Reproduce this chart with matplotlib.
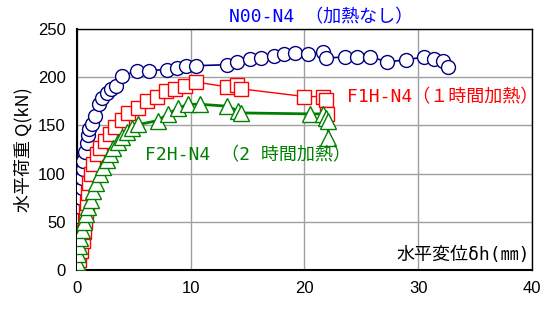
import matplotlib
matplotlib.use("Agg")
import matplotlib.pyplot as plt

plt.rcParams['font.family'] = ['Noto Sans CJK JP', 'DejaVu Sans']
mono_jp = ['DejaVu Sans Mono', 'Noto Sans CJK JP']

# N00-N4 (加熱なし)
n00_x = [0.0, 0.05, 0.1, 0.15, 0.2, 0.25, 0.3, 0.35, 0.4, 0.45, 0.5, 0.55, 0.7, 0.85,
         1.0, 1.1, 1.3, 1.6, 1.9, 2.2, 2.6, 3.0, 3.4, 4.0, 5.3, 6.3, 7.9, 8.8, 9.6, 10.5,
         13.2, 14.1, 15.2, 16.2, 17.3, 18.2, 19.2, 20.3, 21.6, 21.9, 23.6, 24.6, 25.8,
         27.3, 28.9, 30.5, 31.4, 32.2, 32.6]
n00_y = [5, 15, 25, 35, 45, 55, 65, 75, 85, 95, 105, 113, 122, 132,
         140, 146, 152, 160, 172, 178, 184, 188, 191, 201, 207, 207, 208, 210, 212, 212,
         213, 216, 219, 220, 222, 224, 225, 224, 226, 220, 221, 221, 221,
         216, 218, 221, 219, 217, 211]

# F1H-N4 (1時間加熱)
f1h_x = [0.0, 0.2, 0.35, 0.5, 0.6, 0.7, 0.8, 0.9, 1.0, 1.1, 1.2, 1.4, 1.8, 2.0, 2.5,
         2.9, 3.3, 4.0, 4.5, 5.4, 6.2, 7.0, 7.8, 8.6, 9.5, 10.5, 13.2, 14.1, 14.4,
         20.0, 21.6, 21.9, 22.0]
f1h_y = [3, 10, 20, 30, 40, 50, 60, 70, 80, 90, 100, 110, 120, 127, 134,
         141, 148, 156, 163, 168, 175, 180, 186, 188, 191, 195, 190, 192, 188,
         180, 180, 176, 162]

# F2H-N4 (2時間加熱)
f2h_x = [0.0, 0.0, 0.1, 0.15, 0.3, 0.45, 0.6, 0.8, 1.0, 1.2, 1.4, 1.7, 2.0, 2.3, 2.6,
         2.9, 3.2, 3.6, 4.0, 4.4, 4.8, 5.4, 7.1, 8.0, 8.9, 9.8, 10.8, 13.2, 14.2, 14.4,
         20.5, 21.6, 21.9, 22.1, 22.1]
f2h_y = [0, 8, 17, 25, 33, 42, 50, 58, 65, 73, 82, 90, 100, 107, 114,
         120, 127, 133, 138, 143, 147, 151, 155, 162, 168, 172, 172, 170, 165, 163,
         162, 162, 158, 155, 137]

x_ticks = [0, 10, 20, 30, 40]
y_ticks = [0, 50, 100, 150, 200, 250]

fig = plt.figure(figsize=(5.46, 3.09), dpi=100)
ax = fig.add_axes([0.141, 0.126, 0.833, 0.78])

ax.plot(n00_x, n00_y, '-o', color='#000080', lw=1.2, ms=10,
        mfc='white', mec='#000080', mew=1.0, zorder=3)
ax.plot(f1h_x, f1h_y, '-s', color='#ff0000', lw=1.0, ms=9.5,
        mfc='white', mec='#ff0000', mew=1.0, zorder=4)
ax.plot(f2h_x, f2h_y, '-^', color='#008000', lw=2.0, ms=11,
        mfc='white', mec='#008000', mew=1.0, zorder=5)

ax.set_xlim(0, 40)
ax.set_ylim(0, 250)
ax.set_xticks(x_ticks)
ax.set_yticks(y_ticks)
ax.grid(True, color='#a0a0a0', lw=1.0)
ax.set_axisbelow(True)
ax.tick_params(length=0, labelsize=12, pad=8)
for lab in ax.get_xticklabels() + ax.get_yticklabels():
    lab.set_fontfamily(['Liberation Sans', 'DejaVu Sans'])
for s in ax.spines.values():
    s.set_color('black')
    s.set_linewidth(1.0)
ax.spines['left'].set_linewidth(1.5)
ax.spines['bottom'].set_linewidth(1.5)

ax.set_ylabel('水平荷重 Q(kN)', fontsize=13, labelpad=4)

fig.text(0.42, 0.945, 'N00-N4 （加熱なし）', color='#0000ff', fontsize=13,
         ha='left', va='center', family=mono_jp)
fig.text(0.635, 0.685, 'F1H-N4（１時間加熱）', color='#ff0000', fontsize=13,
         ha='left', va='center', family=mono_jp)
fig.text(0.265, 0.497, 'F2H-N4 （2 時間加熱）', color='#008000', fontsize=13,
         ha='left', va='center', family=mono_jp)
ax.text(39.8, 6, '水平変位δh(㎜)', color='black', fontsize=13,
        ha='right', va='bottom', family=mono_jp)

fig.savefig('out.png', dpi=100)
